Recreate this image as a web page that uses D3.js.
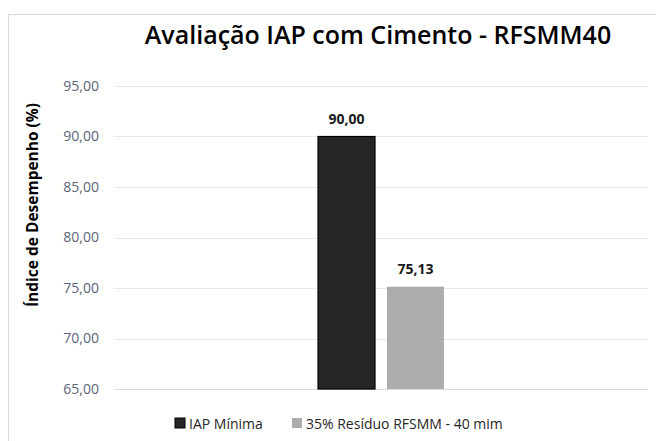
<!DOCTYPE html>
<html>
<head>
<meta charset="utf-8">
<script src="https://cdn.jsdelivr.net/npm/d3@7"></script>
<style>
  body { margin: 0; background: #fff; }
  svg { font-family: "Open Sans", "Noto Sans", sans-serif; }
</style>
</head>
<body>
<div id="chart"></div>
<script>
// Data
const groups = ["Avaliação"];
const seriesNames = ["IAP Mínima", "35% Resíduo RFSMM - 40 mim"];
const seriesValues = [90.00, 75.13];
const seriesColors = ["#262626", "#aeabab"];
const yTicks = [65, 70, 75, 80, 85, 90, 95];

const W = 656, H = 441;
const margin = { top: 86, right: 8, bottom: 52, left: 114 };
const width = W - margin.left - margin.right;
const height = H - margin.top - margin.bottom;

const svg = d3.select("#chart").append("svg")
    .attr("width", W)
    .attr("height", H);

// Chart area border
svg.append("rect")
    .attr("x", 8.5)
    .attr("y", 14.5)
    .attr("width", W)
    .attr("height", H)
    .attr("fill", "none")
    .attr("stroke", "#d9d9d9");

const g = svg.append("g")
    .attr("transform", `translate(${margin.left},${margin.top})`);

const y = d3.scaleLinear().domain([65, 95]).range([height, 0]);

// one category, two clustered bars in a narrow band at the centre
const x0 = d3.scaleBand().domain(groups).range([0, width]).paddingInner(0).paddingOuter(1.62);
const x1 = d3.scaleBand().domain(seriesNames).range([0, x0.bandwidth()]).paddingInner(0.174).paddingOuter(0);

// Gridlines
g.append("g")
    .selectAll("line")
    .data(yTicks)
    .join("line")
    .attr("x1", 0)
    .attr("x2", width)
    .attr("y1", d => Math.round(y(d)) + 0.5)
    .attr("y2", d => Math.round(y(d)) + 0.5)
    .attr("stroke", d => d === 65 ? "#d9d9d9" : "#e6e9ee")
    .attr("stroke-width", 1);

// Y axis labels
const yAxis = d3.axisLeft(y)
    .tickValues(yTicks)
    .tickSize(0)
    .tickPadding(15)
    .tickFormat(d => d3.format(".2f")(d).replace(".", ","));

g.append("g")
    .call(yAxis)
    .call(s => s.select(".domain").remove())
    .selectAll("text")
    .attr("font-size", "14px")
    .attr("fill", "#5b6478")
    .attr("font-family", "Open Sans, sans-serif");

// Bars
const data = seriesNames.map((name, i) => ({ name, value: seriesValues[i], color: seriesColors[i], group: groups[0] }));

g.selectAll("rect.bar")
    .data(data)
    .join("rect")
    .attr("class", "bar")
    .attr("x", d => x0(d.group) + x1(d.name))
    .attr("y", d => y(d.value))
    .attr("width", x1.bandwidth())
    .attr("height", d => y(65) - y(d.value))
    .attr("fill", d => d.color)
    .attr("stroke", (d, i) => i === 0 ? "#000" : "none")
    .attr("stroke-width", 1.2);

// Value labels
g.selectAll("text.val")
    .data(data)
    .join("text")
    .attr("class", "val")
    .attr("x", d => x0(d.group) + x1(d.name) + x1.bandwidth() / 2)
    .attr("y", d => y(d.value) - 13)
    .attr("text-anchor", "middle")
    .attr("font-size", "14px")
    .attr("font-weight", "bold")
    .attr("fill", "#1a1a1a")
    .text(d => d3.format(".2f")(d.value).replace(".", ","));

// Title
svg.append("text")
    .attr("x", 378)
    .attr("y", 44)
    .attr("text-anchor", "middle")
    .attr("font-size", "25px")
    .attr("font-weight", "600")
    .attr("fill", "#000")
    .text("Avaliação IAP com Cimento - RFSMM40");

// Y axis title
svg.append("text")
    .attr("transform", `translate(38,${margin.top + 119}) rotate(-90)`)
    .attr("text-anchor", "middle")
    .attr("font-size", "15.5px")
    .attr("font-weight", "bold")
    .attr("fill", "#000")
    .text("Índice de Desempenho (%)");

// Legend
const legendX = [175, 292];
const legend = svg.append("g").attr("transform", `translate(0,423)`);
data.forEach((d, i) => {
    legend.append("rect")
        .attr("x", legendX[i])
        .attr("y", -5)
        .attr("width", 10)
        .attr("height", 10)
        .attr("fill", d.color)
        .attr("stroke", i === 0 ? "#000" : "none");
    legend.append("text")
        .attr("x", legendX[i] + 14)
        .attr("y", 0)
        .attr("dominant-baseline", "central")
        .attr("font-size", "14px")
        .attr("fill", "#262626")
        .text(d.name);
});
</script>
</body>
</html>
